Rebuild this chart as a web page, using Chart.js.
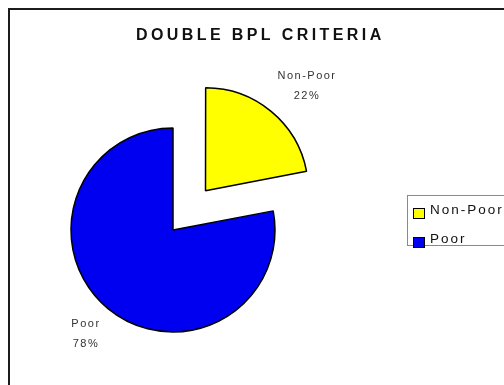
<!DOCTYPE html>
<html>
<head>
<meta charset="utf-8">
<script src="https://cdn.jsdelivr.net/npm/chart.js@4/dist/chart.umd.min.js"></script>
<style>
    html, body { margin: 0; padding: 0; background: #fff; overflow: hidden; }
    #wrap { position: relative; width: 504px; height: 385px; overflow: hidden; }
    #frame { position: absolute; left: 8px; top: 8px; width: 600px; height: 500px; border: 2px solid #1c1c1c; }
    #grafico { position: absolute; left: 0; top: 0; }
</style>
</head>
<body>
<div id="wrap">
    <div id="frame"></div>
    <canvas id="grafico" width="504" height="385"></canvas>
</div>
<script>
const titulo = 'DOUBLE BPL CRITERIA';
const categorias = ['Non-Poor', 'Poor'];
const valores = [22, 78];
const colores = ['#ffff00', '#0000f0'];

// titulo con letras espaciadas
const tituloPlugin = {
    id: 'tituloPlugin',
    afterDraw(chart) {
        const ctx = chart.ctx;
        ctx.save();
        ctx.font = 'bold 16px "Liberation Sans", Arial, sans-serif';
        ctx.letterSpacing = '3.4px';
        ctx.fillStyle = '#111';
        ctx.textAlign = 'left';
        ctx.textBaseline = 'alphabetic';
        ctx.fillText(titulo, 136, 40);
        ctx.restore();
    }
};

// etiquetas fuera de cada sector: nombre y porcentaje
const etiquetasPlugin = {
    id: 'etiquetasPlugin',
    afterDatasetsDraw(chart) {
        const ctx = chart.ctx;
        const meta = chart.getDatasetMeta(0);
        const total = valores.reduce((a, b) => a + b, 0);
        ctx.save();
        ctx.font = '11px "Liberation Sans", Arial, sans-serif';
        ctx.letterSpacing = '1.5px';
        ctx.fillStyle = '#333';
        ctx.textBaseline = 'middle';
        meta.data.forEach((arc, i) => {
            const off = (arc.options.offset || 0) / 4;
            const mid = (arc.startAngle + arc.endAngle) / 2;
            const cx = arc.x + Math.cos(mid) * off;
            const cy = arc.y + Math.sin(mid) * off;
            const r = arc.outerRadius + 14;
            const ax = cx + Math.cos(mid) * r;
            const ay = cy + Math.sin(mid) * r;
            const lineas = [categorias[i], Math.round(valores[i] / total * 100) + '%'];
            const anchos = lineas.map(t => ctx.measureText(t).width - 1.5);
            const w = Math.max(...anchos);
            const izq = ax >= cx ? ax - 2 : ax - w;
            lineas.forEach((t, j) => {
                const y = ay < cy ? ay - 5 - 20 * (lineas.length - 1 - j) : ay + 5 + 20 * j;
                ctx.textAlign = 'left';
                ctx.fillText(t, izq + (w - anchos[j]) / 2, y);
            });
        });
        ctx.restore();
    }
};

// leyenda con recuadro a la derecha
const leyendaPlugin = {
    id: 'leyendaPlugin',
    afterDraw(chart) {
        const ctx = chart.ctx;
        ctx.save();
        ctx.strokeStyle = '#8a8a8a';
        ctx.lineWidth = 1;
        ctx.strokeRect(407.5, 195.5, 120, 50);
        ctx.font = '13.5px "Liberation Sans", Arial, sans-serif';
        ctx.letterSpacing = '2px';
        ctx.textBaseline = 'alphabetic';
        categorias.forEach((c, i) => {
            const y = 208 + i * 29;
            ctx.fillStyle = colores[i];
            ctx.fillRect(413.5, y + 0.5, 11, 10);
            ctx.strokeStyle = '#000';
            ctx.strokeRect(413.5, y + 0.5, 11, 10);
            ctx.fillStyle = '#111';
            ctx.fillText(c, 430, y + 6);
        });
        ctx.restore();
    }
};

const ctx = document.getElementById('grafico').getContext('2d');
new Chart(ctx, {
    type: 'pie',
    data: {
        labels: categorias,
        datasets: [{
            data: valores,
            backgroundColor: colores,
            borderColor: '#000',
            borderWidth: 1.5,
            offset: [204, 0]
        }]
    },
    options: {
        responsive: false,
        animation: false,
        events: [],
        radius: 102,
        layout: { padding: { left: 20, right: 178, top: 100, bottom: 25 } },
        plugins: {
            legend: { display: false },
            title: { display: false },
            tooltip: { enabled: false }
        }
    },
    plugins: [tituloPlugin, etiquetasPlugin, leyendaPlugin]
});
</script>
</body>
</html>
